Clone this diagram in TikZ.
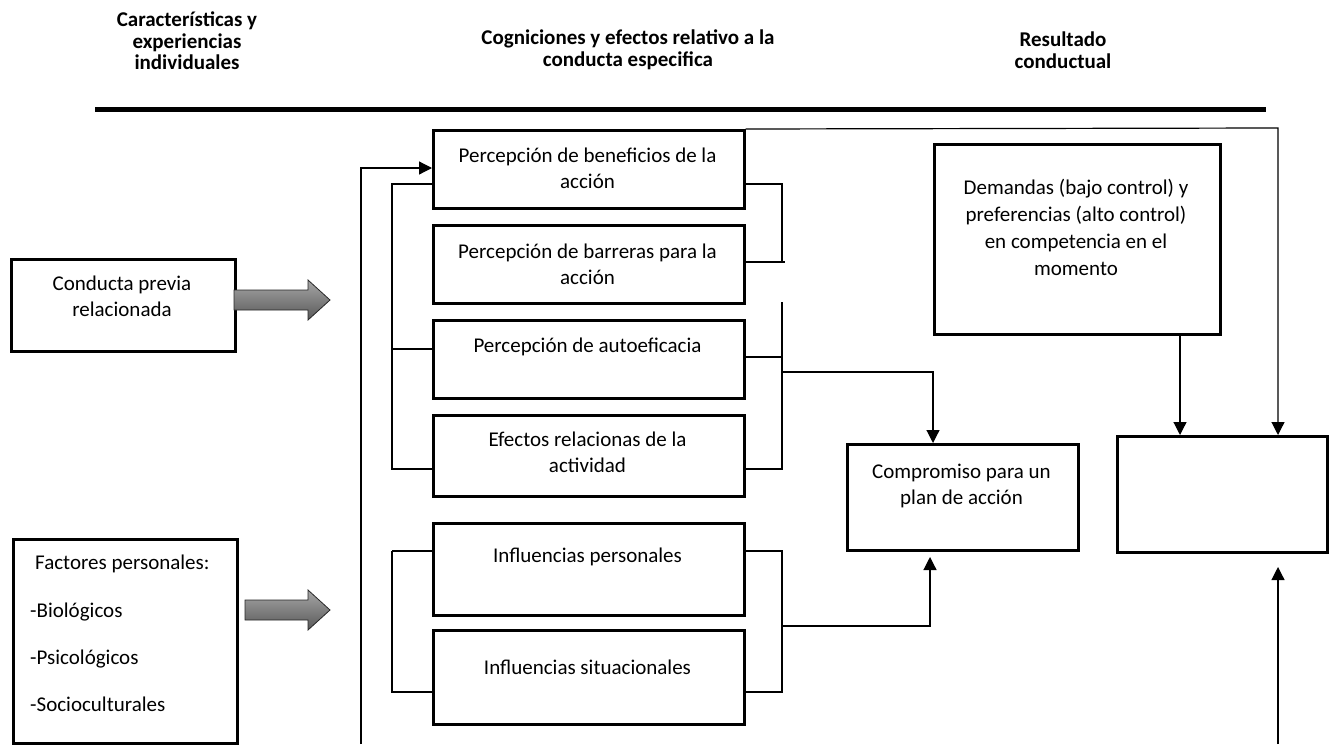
\documentclass[tikz,border=0pt]{standalone}
\usepackage{fontspec}
\setmainfont{Carlito}
\usetikzlibrary{arrows.meta}
\begin{document}
\begin{tikzpicture}[x=1pt,y=-1pt,
  cbox/.style={draw, line width=2.5pt, inner sep=0pt, anchor=north west},
  txt/.style={font=\fontsize{21}{26}\selectfont, align=center, inner sep=0pt},
  ltxt/.style={font=\fontsize{21}{26}\selectfont, inner sep=0pt, anchor=west},
  hdr/.style={font=\bfseries\fontsize{21}{21.5}\selectfont, align=center, inner sep=0pt},
  conn/.style={line width=1.2pt},
  arr/.style={conn, -{Triangle[length=13pt,width=13pt]}},
  garrow/.style={draw=black!85, line width=0.8pt, top color=black!35, bottom color=black!65},
]
\useasboundingbox (0,0) rectangle (1335,744);

% headers
\node[hdr] (h1) at (187,41) {Características y\\experiencias\\individuales};
\node[hdr] (h2) at (628,50) {Cogniciones y efectos relativo a la\\conducta especifica};
\node[hdr] (h3) at (1063,50) {Resultado\\conductual};
\coordinate (rule-l) at (95,109.5);
\coordinate (rule-r) at (1266,109.5);
\draw[line width=4.5pt] (rule-l) -- (rule-r);

% left column
\node[cbox, minimum width=224pt, minimum height=92pt] (con) at (10,258) {};
\node[txt] (con-t) at (122,296) {Conducta previa\\relacionada};
\path[garrow] (234,290) -- (308,290) -- (308,280) -- (330,300) -- (308,320) -- (308,310) -- (234,310) -- cycle;

\node[cbox, minimum width=224pt, minimum height=204pt] (fac) at (12,538) {};
\node[ltxt] (fac-t1) at (35,564) {Factores personales:};
\node[ltxt] (fac-t2) at (30,612) {-Biológicos};
\node[ltxt] (fac-t3) at (30,659) {-Psicológicos};
\node[ltxt] (fac-t4) at (30,704) {-Socioculturales};
\path[garrow] (245,600) -- (308,600) -- (308,590) -- (330,610) -- (308,630) -- (308,620) -- (245,620) -- cycle;

% middle column
\node[cbox, minimum width=311pt, minimum height=78pt] (ben) at (432,129) {};
\node[txt] (ben-t) at (587.5,168.5) {Percepción de beneficios de la\\acción};
\node[cbox, minimum width=311pt, minimum height=78pt] (bar) at (432,224) {};
\node[txt] (bar-t) at (587.5,264) {Percepción de barreras para la\\acción};
\node[cbox, minimum width=311pt, minimum height=78pt] (aut) at (432,319) {};
\node[txt] (aut-t) at (587.5,347) {Percepción de autoeficacia};
\node[cbox, minimum width=311pt, minimum height=81pt] (efe) at (432,414) {};
\node[txt] (efe-t) at (587.5,452) {Efectos relacionas de la\\actividad};

\node[cbox, minimum width=311pt, minimum height=92pt] (inp) at (432,522) {};
\node[txt] (inp-t) at (587.5,557) {Influencias personales};
\node[cbox, minimum width=311pt, minimum height=94pt] (ins) at (432,629) {};
\node[txt] (ins-t) at (587.5,667) {Influencias situacionales};

% right side
\node[cbox, minimum width=231pt, minimum height=106pt] (com) at (846,443) {};
\node[txt] (com-t) at (961.5,486) {Compromiso para un\\plan de acción};
\node[cbox, minimum width=286pt, minimum height=190pt] (dem) at (933,143) {};
\node[txt, font=\fontsize{21}{27}\selectfont] (dem-t) at (1076,227.5) {Demandas (bajo control) y\\preferencias (alto control)\\en competencia en el\\momento};
\node[cbox, minimum width=210pt, minimum height=116pt] (res) at (1116,435) {};

% left bracket of cognitions
\coordinate (lb1) at (392,184);
\coordinate (lb2) at (392,349);
\coordinate (lb3) at (392,469);
\draw[conn] (lb1 -| ben.west) -- (lb1) -- (lb3) -- (lb3 -| efe.west);
\draw[conn] (lb2) -- (lb2 -| aut.west);

% feedback line
\coordinate (fb1) at (361,744);
\coordinate (fb2) at (361,168);
\draw[arr] (fb1) -- (fb2) -- (fb2 -| ben.west);

% right bracket of cognitions
\coordinate (rb1) at (782,184);
\coordinate (rb2) at (782,262);
\coordinate (rb2e) at (785,262);
\coordinate (rb3) at (782,357);
\coordinate (rb4) at (782,469);
\coordinate (rbg) at (782,302);
\coordinate (rbo) at (782,372);
\coordinate (cm1) at (933,372);
\draw[conn] (rb1 -| ben.east) -- (rb1) -- (rb2);
\draw[conn] (rb2 -| bar.east) -- (rb2e);
\draw[conn] (rbg) -- (rb4) -- (rb4 -| efe.east);
\draw[conn] (rb3 -| aut.east) -- (rb3);
\draw[arr] (rbo) -- (cm1) -- (cm1 |- com.north);

% top line to result
\coordinate (tl) at (1278,128);
\draw[arr] (ben.north east) -- (tl) -- (tl |- res.north);

% demands to result
\coordinate (dm) at (1180,333);
\draw[arr] (dm |- dem.south) -- (dm |- res.north);

% bottom arrow to result
\coordinate (bt1) at (1278,744);
\coordinate (bt2) at (1278,567);
\draw[arr] (bt1) -- (bt2);

% influences bracket
\coordinate (il1) at (392,551);
\coordinate (il2) at (392,692);
\coordinate (ir1) at (782,551);
\coordinate (ir2) at (782,692);
\coordinate (iro) at (782,626);
\coordinate (ic) at (930,626);
\coordinate (ict) at (930,557);
\draw[line width=2.5pt] (il1 -| inp.west) -- (il1);
\draw[conn] (il1) -- (il2) -- (il2 -| ins.west);
\draw[conn] (ir1 -| inp.east) -- (ir1) -- (ir2) -- (ir2 -| ins.east);
\draw[arr] (iro) -- (ic) -- (ict);
\end{tikzpicture}
\end{document}
